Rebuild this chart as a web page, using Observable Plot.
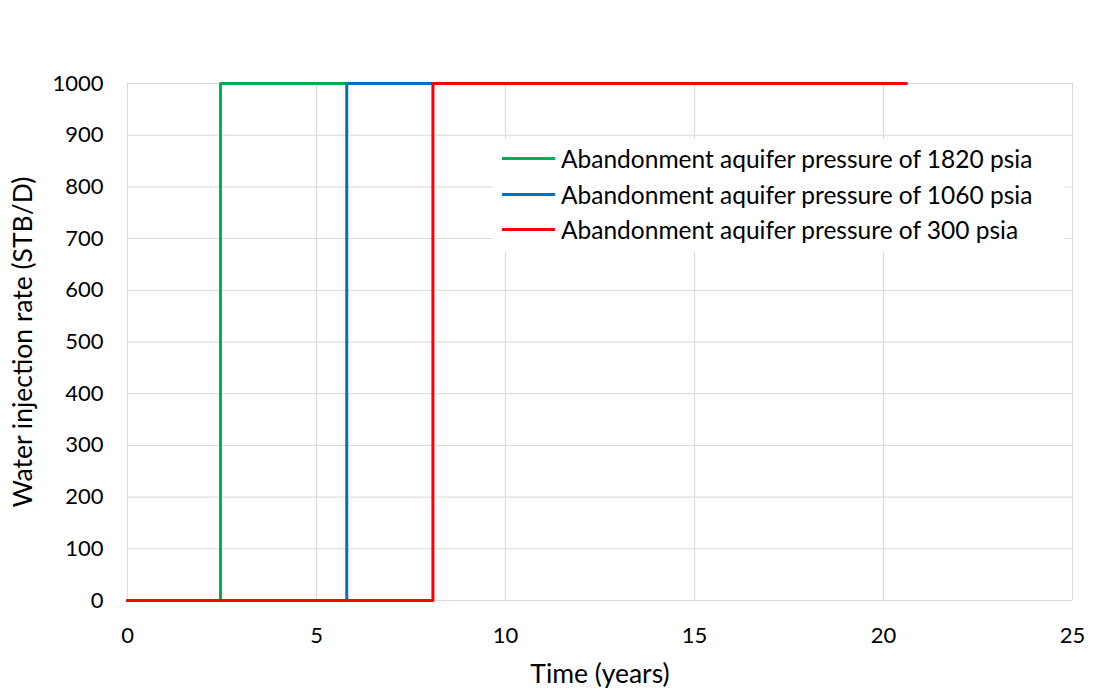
<!DOCTYPE html>
<html>
<head>
<meta charset="utf-8">
<script src="https://cdn.jsdelivr.net/npm/d3@7"></script>
<script src="https://cdn.jsdelivr.net/npm/@observablehq/plot@0.6"></script>
<style>
  html, body { margin: 0; padding: 0; background: #fff; }
  #wrap { position: relative; width: 1094px; height: 689px; font-family: Lato, "Open Sans", sans-serif; }
  #legend { position: absolute; left: 493px; top: 139px; width: 572px; background: #fff; padding: 2px 0 4px 0; }
  .row { display: flex; align-items: center; height: 35.5px; font-size: 24.5px; color: #000; }
  .sw { width: 53px; height: 3px; margin-left: 9px; margin-right: 6px; }
</style>
</head>
<body>
<div id="wrap"></div>
<script>
const seriesNames = [
  "Abandonment aquifer pressure of 1820 psia",
  "Abandonment aquifer pressure of 1060 psia",
  "Abandonment aquifer pressure of 300 psia"
];
const seriesColors = ["#00b050", "#0070c0", "#ff0000"];
// time (years) and water injection rate (STB/D) per series
const timeGreen = [0, 2.46, 2.46, 20.6];
const rateGreen = [0, 0, 1000, 1000];
const timeBlue = [0, 5.8, 5.8, 20.6];
const rateBlue = [0, 0, 1000, 1000];
const timeRed = [0, 8.08, 8.08, 20.6];
const rateRed = [0, 0, 1000, 1000];
const xTicks = [0, 5, 10, 15, 20, 25];
const yTicks = [0, 100, 200, 300, 400, 500, 600, 700, 800, 900, 1000];

const seriesTimes = [timeGreen, timeBlue, timeRed];
const seriesRates = [rateGreen, rateBlue, rateRed];
const data = [];
seriesNames.forEach((name, i) => {
  seriesTimes[i].forEach((t, j) => data.push({series: name, t, r: seriesRates[i][j]}));
});

const chart = Plot.plot({
  width: 1094,
  height: 689,
  marginLeft: 127,
  marginRight: 22,
  marginTop: 83,
  marginBottom: 89,
  style: {fontFamily: "Lato, 'Open Sans', sans-serif", fontSize: "22px", color: "#000", background: "#fff"},
  x: {domain: [0, 25]},
  y: {domain: [0, 1000]},
  color: {domain: seriesNames, range: seriesColors},
  marks: [
    Plot.gridX(xTicks, {stroke: "#d9d9d9", strokeOpacity: 1, strokeWidth: 1}),
    Plot.gridY(yTicks, {stroke: "#d9d9d9", strokeOpacity: 1, strokeWidth: 1}),
    Plot.axisX(xTicks, {tickSize: 0, tickPadding: 27, fontSize: 22, label: "Time (years)", labelAnchor: "center", labelArrow: "none", labelOffset: 82, tickFormat: d => String(d)}),
    Plot.axisY(yTicks, {tickSize: 0, tickPadding: 24, fontSize: 22, label: "Water injection rate (STB/D)", labelAnchor: "center", labelArrow: "none", labelOffset: 114, tickFormat: d => String(d)}),
    Plot.line(data, {x: "t", y: "r", z: "series", stroke: "series", strokeWidth: 3, curve: "linear"})
  ]
});
chart.querySelectorAll("g[aria-label='x-axis label'] text, g[aria-label='y-axis label'] text").forEach(t => t.style.fontSize = "26.5px");
const wrap = document.getElementById("wrap");
wrap.appendChild(chart);

const legend = document.createElement("div");
legend.id = "legend";
seriesNames.forEach((n, i) => {
  const row = document.createElement("div");
  row.className = "row";
  const sw = document.createElement("div");
  sw.className = "sw";
  sw.style.background = seriesColors[i];
  const lab = document.createElement("span");
  lab.textContent = n;
  row.appendChild(sw);
  row.appendChild(lab);
  legend.appendChild(row);
});
wrap.appendChild(legend);
</script>
</body>
</html>
